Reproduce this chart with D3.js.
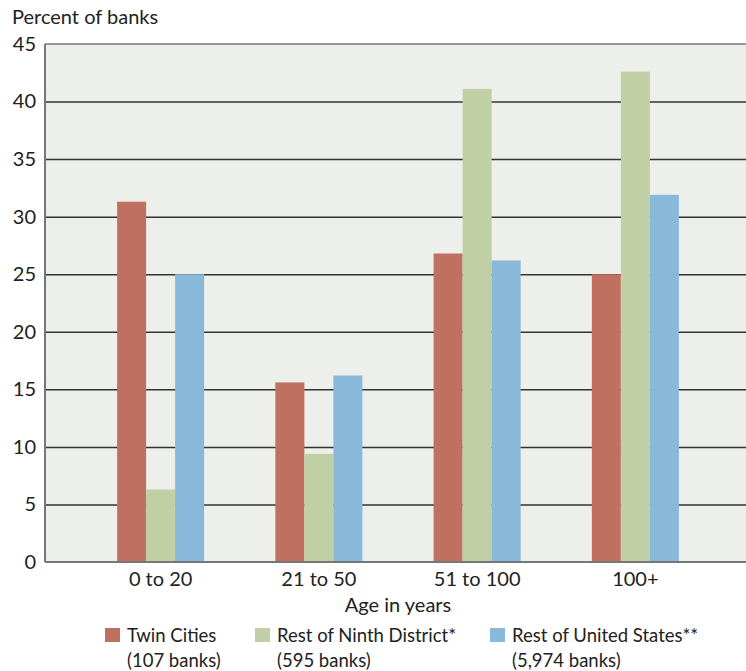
<!DOCTYPE html>
<html><head><meta charset="utf-8">
<script src="https://cdn.jsdelivr.net/npm/d3@7"></script>
<style>
body{margin:0;background:#fff;}
svg{display:block;font-family:Lato,"Noto Sans",sans-serif;}
</style></head>
<body><svg id="c" width="746" height="671"></svg>
<script>
const categories = ["0 to 20", "21 to 50", "51 to 100", "100+"];
const seriesNames = ["Twin Cities", "Rest of Ninth District*", "Rest of United States**"];
const seriesSub = ["(107 banks)", "(595 banks)", "(5,974 banks)"];
const twinCities = [31.3, 15.6, 26.8, 25.0];
const restNinth = [6.3, 9.4, 41.1, 42.6];
const restUS = [25.0, 16.2, 26.2, 31.9];
const yTicks = [0, 5, 10, 15, 20, 25, 30, 35, 40, 45];
const colors = ["#C07060", "#C1D0A4", "#88B8DA"];

const series = [twinCities, restNinth, restUS];
const svg = d3.select("#c");
const plot = {l: 45, r: 746, t: 44, b: 562};

const y = d3.scaleLinear().domain([0, 45]).range([plot.b, plot.t]);
const x0 = d3.scaleBand().domain(categories).range([81.5, 714.5]).paddingInner(0.45).paddingOuter(0.225);
const x1 = d3.scaleBand().domain(d3.range(series.length)).range([0, x0.bandwidth()]);

svg.append("rect").attr("x", plot.l).attr("y", plot.t).attr("width", plot.r - plot.l).attr("height", plot.b - plot.t).attr("fill", "#EDEFEA");

// gridlines
const grid = svg.append("g").attr("transform", `translate(${plot.l},0)`)
  .call(d3.axisLeft(y).tickValues(yTicks.filter(v => v > 0 && v < 45)).tickSize(-(plot.r - plot.l)).tickFormat(""));
grid.select(".domain").remove();
grid.selectAll("line").attr("stroke", "#333").attr("stroke-width", 1.5);

// top border
svg.append("line").attr("x1", plot.l).attr("x2", plot.r).attr("y1", plot.t).attr("y2", plot.t).attr("stroke", "#777").attr("stroke-width", 1.5);

// bars
const groups = svg.append("g").selectAll("g").data(categories).join("g")
  .attr("transform", d => `translate(${x0(d)},0)`);
groups.selectAll("rect").data((d, i) => series.map((s, k) => ({k, v: s[i]}))).join("rect")
  .attr("x", d => x1(d.k)).attr("width", x1.bandwidth())
  .attr("y", d => y(d.v)).attr("height", d => y(0) - y(d.v))
  .attr("fill", d => colors[d.k]);

// left axis line and bottom
svg.append("line").attr("x1", plot.l).attr("x2", plot.l).attr("y1", plot.t).attr("y2", plot.b).attr("stroke", "#777").attr("stroke-width", 2);
svg.append("line").attr("x1", plot.l).attr("x2", plot.r).attr("y1", plot.b).attr("y2", plot.b).attr("stroke", "#777").attr("stroke-width", 2);

// y tick labels
const ya = svg.append("g").attr("transform", `translate(${plot.l},0)`)
  .call(d3.axisLeft(y).tickValues(yTicks).tickSize(0).tickPadding(9));
ya.select(".domain").remove();
ya.selectAll("text").attr("font-size", 20).attr("fill", "#222").attr("font-family", "Lato,'Noto Sans',sans-serif");

// x labels
const xa = svg.append("g").attr("transform", `translate(0,${plot.b})`)
  .call(d3.axisBottom(x0).tickSize(0).tickPadding(10));
xa.select(".domain").remove();
xa.selectAll("text").attr("font-size", 20).attr("fill", "#222").attr("font-family", "Lato,'Noto Sans',sans-serif").attr("dy", "0.71em");

svg.append("text").attr("x", 12).attr("y", 24).attr("font-size", 20).attr("fill", "#222").text("Percent of banks");
svg.append("text").attr("x", 398).attr("y", 612).attr("text-anchor", "middle").attr("font-size", 20).attr("fill", "#222").text("Age in years");

// legend
const legX = [105, 255, 490];
seriesNames.forEach((n, k) => {
  svg.append("rect").attr("x", legX[k]).attr("y", 628).attr("width", 15).attr("height", 14).attr("fill", colors[k]);
  svg.append("text").attr("x", legX[k] + 22).attr("y", 642).attr("font-size", 18.5).attr("fill", "#222").text(n);
  svg.append("text").attr("x", legX[k] + 22).attr("y", 667).attr("font-size", 18.5).attr("fill", "#222").text(seriesSub[k]);
});
</script></body></html>
